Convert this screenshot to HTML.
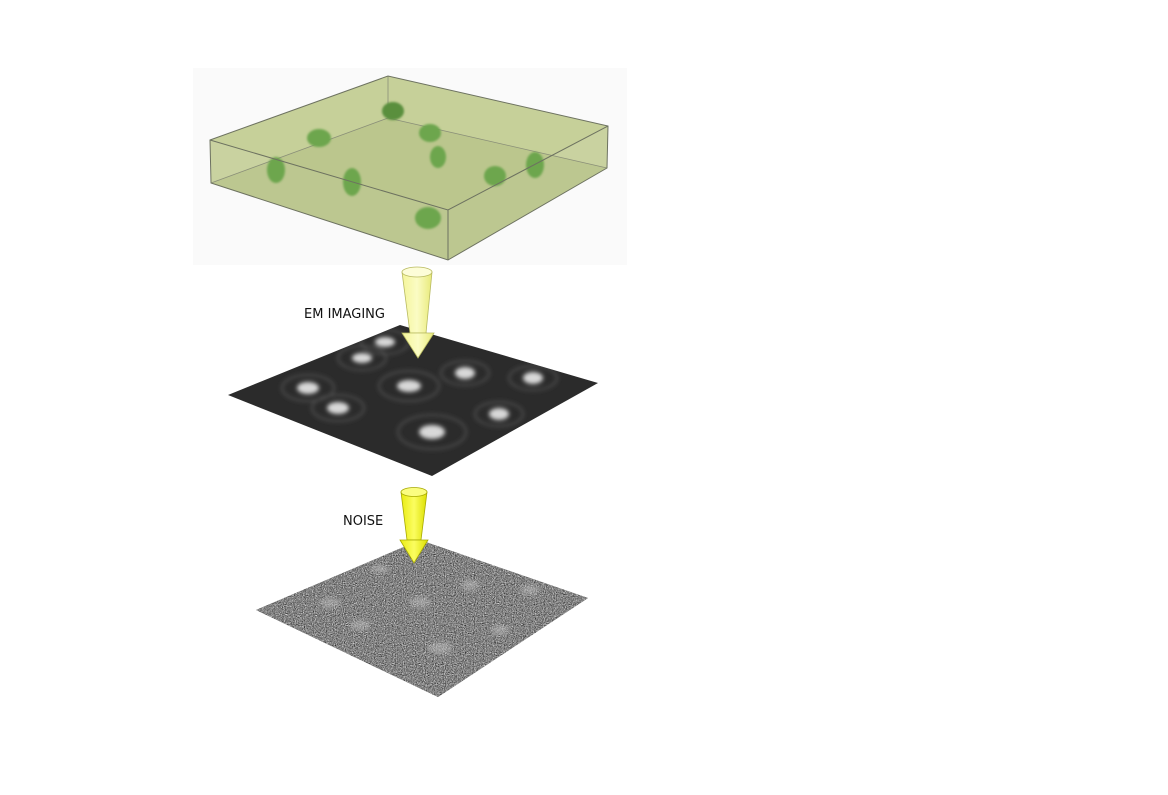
<!DOCTYPE html>
<html><head><meta charset="utf-8"><style>
html,body{margin:0;padding:0;background:#fff;}
svg{display:block;}
text{font-family:"DejaVu Sans","Liberation Sans",sans-serif;font-size:13px;fill:#111;}
</style></head><body>
<svg width="1168" height="795" viewBox="0 0 1168 795">
<defs>
<filter id="noise" x="0" y="0" width="100%" height="100%" color-interpolation-filters="sRGB">
<feTurbulence type="fractalNoise" baseFrequency="0.9" numOctaves="2" seed="3"/>
<feColorMatrix type="matrix" values="0.33 0.33 0.33 0 0  0.33 0.33 0.33 0 0  0.33 0.33 0.33 0 0  0 0 0 0 1"/>
<feComponentTransfer><feFuncR type="linear" slope="1.8" intercept="-0.38"/><feFuncG type="linear" slope="1.8" intercept="-0.38"/><feFuncB type="linear" slope="1.8" intercept="-0.38"/></feComponentTransfer>
</filter>
<filter id="blur2"><feGaussianBlur stdDeviation="2"/></filter>
<filter id="blur1"><feGaussianBlur stdDeviation="1"/></filter>
<clipPath id="noiseclip"><polygon points="256,610 420,540 588,598 438,697"/></clipPath>
<clipPath id="darkclip"><polygon points="228,395 400,325 598,383 432,476"/></clipPath>
<linearGradient id="arrowg" x1="0" x2="1"><stop offset="0" stop-color="#f4f59a"/><stop offset="0.5" stop-color="#fbfcc4"/><stop offset="1" stop-color="#e8ea7a"/></linearGradient>
<linearGradient id="arrowg2" x1="0" x2="1"><stop offset="0" stop-color="#e9ec10"/><stop offset="0.5" stop-color="#fbfd60"/><stop offset="1" stop-color="#dcdf00"/></linearGradient>
</defs>

<rect x="193" y="68" width="434" height="197" fill="#fafafa"/>
<g>
<polygon points="210,140 388,76 608,126 607,168 448,260 211,183" fill="#c9d2a0"/>
<polygon points="210,140 388,76 608,126 448,210" fill="#c5cf98" opacity="0.9"/>
<polygon points="211,183 388,118 607,168 448,260" fill="#b4bf86" opacity="0.6"/>
<polyline points="211,183 388,118 607,168" fill="none" stroke="#8a8f78" stroke-width="0.8"/>
<line x1="388" y1="76" x2="388" y2="118" stroke="#8a8f78" stroke-width="0.8"/>
<g fill="#6da64e" filter="url(#blur1)">
<ellipse cx="393" cy="111" rx="11" ry="9" fill="#5a8f3d"/>
<ellipse cx="319" cy="138" rx="12" ry="9"/>
<ellipse cx="430" cy="133" rx="11" ry="9"/>
<ellipse cx="438" cy="157" rx="8" ry="11"/>
<ellipse cx="276" cy="170" rx="9" ry="13"/>
<ellipse cx="352" cy="182" rx="9" ry="14"/>
<ellipse cx="495" cy="176" rx="11" ry="10"/>
<ellipse cx="535" cy="165" rx="9" ry="13"/>
<ellipse cx="428" cy="218" rx="13" ry="11"/>
</g>
<polygon points="210,140 388,76 608,126 607,168 448,260 211,183" fill="none" stroke="#6d7260" stroke-width="1"/>
<polyline points="210,140 448,210 608,126" fill="none" stroke="#6d7260" stroke-width="1"/>
<line x1="448" y1="210" x2="448" y2="260" stroke="#6d7260" stroke-width="1"/>
</g>

<g>
<polygon points="228,395 400,325 598,383 432,476" fill="#2b2b2b"/>
<g clip-path="url(#darkclip)">
<g filter="url(#blur2)">
<g fill="none" stroke="#5a5a5a" stroke-width="1.5">
<ellipse cx="385" cy="342" rx="24" ry="12"/><ellipse cx="362" cy="358" rx="24" ry="12"/>
<ellipse cx="308" cy="388" rx="26" ry="13"/><ellipse cx="409" cy="386" rx="30" ry="15"/>
<ellipse cx="465" cy="373" rx="24" ry="12"/><ellipse cx="533" cy="378" rx="24" ry="12"/>
<ellipse cx="338" cy="408" rx="26" ry="13"/><ellipse cx="432" cy="432" rx="34" ry="17"/>
<ellipse cx="499" cy="414" rx="24" ry="12"/>
</g>
<g fill="#d8d8d8">
<ellipse cx="385" cy="342" rx="10" ry="5"/><ellipse cx="362" cy="358" rx="10" ry="5"/>
<ellipse cx="308" cy="388" rx="11" ry="6"/><ellipse cx="409" cy="386" rx="12" ry="6"/>
<ellipse cx="465" cy="373" rx="10" ry="6"/><ellipse cx="533" cy="378" rx="10" ry="6"/>
<ellipse cx="338" cy="408" rx="11" ry="6"/><ellipse cx="432" cy="432" rx="13" ry="7"/>
<ellipse cx="499" cy="414" rx="10" ry="6"/>
</g>
</g>
</g>
</g>

<g>
<polygon points="256,610 420,540 588,598 438,697" fill="#777"/>
<rect x="250" y="535" width="345" height="165" filter="url(#noise)" clip-path="url(#noiseclip)"/>
<g fill="#c8c8c8" opacity="0.45" filter="url(#blur2)" clip-path="url(#noiseclip)">
<ellipse cx="380" cy="569" rx="9" ry="4"/><ellipse cx="330" cy="603" rx="10" ry="5"/>
<ellipse cx="420" cy="602" rx="11" ry="5"/><ellipse cx="470" cy="585" rx="9" ry="5"/>
<ellipse cx="530" cy="590" rx="9" ry="5"/><ellipse cx="360" cy="625" rx="10" ry="5"/>
<ellipse cx="440" cy="648" rx="12" ry="6"/><ellipse cx="500" cy="630" rx="9" ry="5"/>
</g>
</g>

<g>
<polygon points="402,272 432,272 426,333 410,333" fill="url(#arrowg)" stroke="#b8ba60" stroke-width="0.8"/>
<polygon points="402,333 434,333 418,358" fill="url(#arrowg)" stroke="#b8ba60" stroke-width="0.8"/>
<ellipse cx="417" cy="272" rx="15" ry="5" fill="#fdfdd8" stroke="#b8ba60" stroke-width="0.8"/>
</g>
<text x="304" y="318">EM IMAGING</text>

<g>
<polygon points="401,492 427,492 421,540 407,540" fill="url(#arrowg2)" stroke="#a7a900" stroke-width="0.8"/>
<polygon points="400,540 428,540 414,563" fill="url(#arrowg2)" stroke="#a7a900" stroke-width="0.8"/>
<ellipse cx="414" cy="492" rx="13" ry="4.5" fill="#fbfd80" stroke="#a7a900" stroke-width="0.8"/>
</g>
<text x="343" y="525">NOISE</text>
</svg>
</body></html>
